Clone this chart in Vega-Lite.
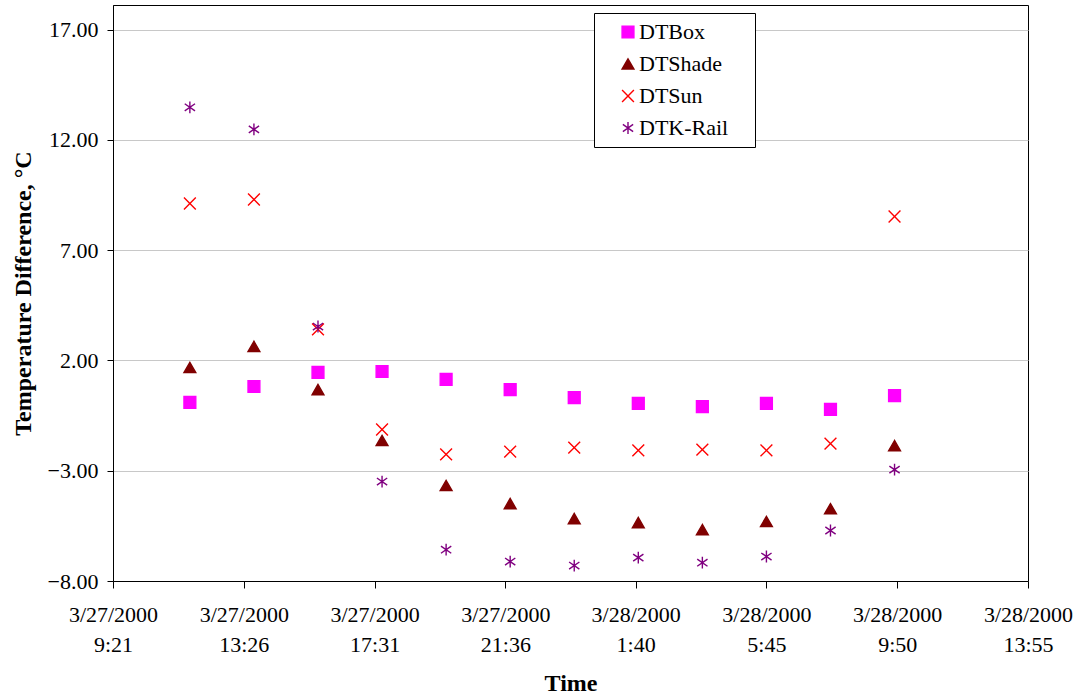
{
  "$schema": "https://vega.github.io/schema/vega-lite/v6.json",
  "autosize": "none",
  "padding": {"left": 113, "top": 5, "right": 51, "bottom": 116},
  "width": 915,
  "height": 576,
  "background": "white",
  "config": {
    "font": "Liberation Serif",
    "view": {"stroke": "black", "strokeWidth": 1},
    "legend": {
      "orient": "none",
      "legendX": 481,
      "legendY": 8,
      "fillColor": "white",
      "strokeColor": "black",
      "padding": 8,
      "rowPadding": 10,
      "labelFont": "Liberation Serif",
      "labelFontSize": 22,
      "labelColor": "black",
      "labelLimit": 200,
      "symbolSize": 140,
      "symbolStrokeWidth": 1.4,
      "symbolOffset": 15,
      "labelOffset": 0,
      "titleOrient": "right",
      "titleColor": "white",
      "titleFontSize": 22,
      "titlePadding": 13
    }
  },
  "data": {
    "values": [
      {"time": "2000-03-27T11:45:00", "series": "DTBox", "value": 0.1},
      {"time": "2000-03-27T13:45:00", "series": "DTBox", "value": 0.82},
      {"time": "2000-03-27T15:45:00", "series": "DTBox", "value": 1.46},
      {"time": "2000-03-27T17:45:00", "series": "DTBox", "value": 1.5},
      {"time": "2000-03-27T19:45:00", "series": "DTBox", "value": 1.14},
      {"time": "2000-03-27T21:45:00", "series": "DTBox", "value": 0.68},
      {"time": "2000-03-27T23:45:00", "series": "DTBox", "value": 0.32},
      {"time": "2000-03-28T01:45:00", "series": "DTBox", "value": 0.05},
      {"time": "2000-03-28T03:45:00", "series": "DTBox", "value": -0.09},
      {"time": "2000-03-28T05:45:00", "series": "DTBox", "value": 0.05},
      {"time": "2000-03-28T07:45:00", "series": "DTBox", "value": -0.22},
      {"time": "2000-03-28T09:45:00", "series": "DTBox", "value": 0.41},
      {"time": "2000-03-27T11:45:00", "series": "DTShade", "value": 1.68},
      {"time": "2000-03-27T13:45:00", "series": "DTShade", "value": 2.64},
      {"time": "2000-03-27T15:45:00", "series": "DTShade", "value": 0.68},
      {"time": "2000-03-27T17:45:00", "series": "DTShade", "value": -1.63},
      {"time": "2000-03-27T19:45:00", "series": "DTShade", "value": -3.67},
      {"time": "2000-03-27T21:45:00", "series": "DTShade", "value": -4.49},
      {"time": "2000-03-27T23:45:00", "series": "DTShade", "value": -5.17},
      {"time": "2000-03-28T01:45:00", "series": "DTShade", "value": -5.35},
      {"time": "2000-03-28T03:45:00", "series": "DTShade", "value": -5.67},
      {"time": "2000-03-28T05:45:00", "series": "DTShade", "value": -5.3},
      {"time": "2000-03-28T07:45:00", "series": "DTShade", "value": -4.72},
      {"time": "2000-03-28T09:45:00", "series": "DTShade", "value": -1.86},
      {"time": "2000-03-27T11:45:00", "series": "DTSun", "value": 9.12},
      {"time": "2000-03-27T13:45:00", "series": "DTSun", "value": 9.3},
      {"time": "2000-03-27T15:45:00", "series": "DTSun", "value": 3.41},
      {"time": "2000-03-27T17:45:00", "series": "DTSun", "value": -1.13},
      {"time": "2000-03-27T19:45:00", "series": "DTSun", "value": -2.26},
      {"time": "2000-03-27T21:45:00", "series": "DTSun", "value": -2.13},
      {"time": "2000-03-27T23:45:00", "series": "DTSun", "value": -1.95},
      {"time": "2000-03-28T01:45:00", "series": "DTSun", "value": -2.08},
      {"time": "2000-03-28T03:45:00", "series": "DTSun", "value": -2.04},
      {"time": "2000-03-28T05:45:00", "series": "DTSun", "value": -2.08},
      {"time": "2000-03-28T07:45:00", "series": "DTSun", "value": -1.77},
      {"time": "2000-03-28T09:45:00", "series": "DTSun", "value": 8.53},
      {"time": "2000-03-27T11:45:00", "series": "DTK-Rail", "value": 13.48},
      {"time": "2000-03-27T13:45:00", "series": "DTK-Rail", "value": 12.48},
      {"time": "2000-03-27T15:45:00", "series": "DTK-Rail", "value": 3.54},
      {"time": "2000-03-27T17:45:00", "series": "DTK-Rail", "value": -3.49},
      {"time": "2000-03-27T19:45:00", "series": "DTK-Rail", "value": -6.58},
      {"time": "2000-03-27T21:45:00", "series": "DTK-Rail", "value": -7.12},
      {"time": "2000-03-27T23:45:00", "series": "DTK-Rail", "value": -7.3},
      {"time": "2000-03-28T01:45:00", "series": "DTK-Rail", "value": -6.94},
      {"time": "2000-03-28T03:45:00", "series": "DTK-Rail", "value": -7.17},
      {"time": "2000-03-28T05:45:00", "series": "DTK-Rail", "value": -6.89},
      {"time": "2000-03-28T07:45:00", "series": "DTK-Rail", "value": -5.71},
      {"time": "2000-03-28T09:45:00", "series": "DTK-Rail", "value": -2.95}
    ]
  },
  "mark": {"type": "point", "filled": true, "size": 140, "strokeWidth": 1.4, "opacity": 1},
  "encoding": {
    "x": {
      "field": "time",
      "type": "temporal",
      "scale": {
        "domain": [
          {"year": 2000, "month": 3, "date": 27, "hours": 9, "minutes": 21},
          {"year": 2000, "month": 3, "date": 28, "hours": 13, "minutes": 55}
        ]
      },
      "axis": {
        "title": "Time",
        "titleFont": "Liberation Serif",
        "titleFontSize": 24,
        "titleFontWeight": "bold",
        "titleColor": "black",
        "titlePadding": 16,
        "values": [
          {"year": 2000, "month": 3, "date": 27, "hours": 9, "minutes": 21},
          {"year": 2000, "month": 3, "date": 27, "hours": 13, "minutes": 26},
          {"year": 2000, "month": 3, "date": 27, "hours": 17, "minutes": 31},
          {"year": 2000, "month": 3, "date": 27, "hours": 21, "minutes": 36},
          {"year": 2000, "month": 3, "date": 28, "hours": 1, "minutes": 40},
          {"year": 2000, "month": 3, "date": 28, "hours": 5, "minutes": 45},
          {"year": 2000, "month": 3, "date": 28, "hours": 9, "minutes": 50},
          {"year": 2000, "month": 3, "date": 28, "hours": 13, "minutes": 55}
        ],
        "labelExpr": "[timeFormat(datum.value, '%-m/%d/%Y'), timeFormat(datum.value, '%-H:%M')]",
        "labelFont": "Liberation Serif",
        "labelFontSize": 22,
        "labelColor": "black",
        "labelLineHeight": 30,
        "labelPadding": 16,
        "labelOverlap": false,
        "labelFlush": false,
        "grid": false,
        "tickSize": 7,
        "tickColor": "black",
        "domainColor": "black"
      }
    },
    "y": {
      "field": "value",
      "type": "quantitative",
      "scale": {"domain": [-8, 18.12], "nice": false, "zero": false},
      "axis": {
        "title": "Temperature Difference, °C",
        "titleFont": "Liberation Serif",
        "titleFontSize": 24,
        "titleFontWeight": "bold",
        "titleColor": "black",
        "titlePadding": 12,
        "values": [-8, -3, 2, 7, 12, 17],
        "format": ".2f",
        "labelFont": "Liberation Serif",
        "labelFontSize": 22,
        "labelColor": "black",
        "labelPadding": 9,
        "tickSize": 6,
        "tickColor": "black",
        "domainColor": "black",
        "grid": true,
        "gridColor": "#c8c8c8",
        "gridWidth": 1
      }
    },
    "fill": {
      "field": "series",
      "type": "nominal",
      "title": ".",
      "scale": {
        "domain": ["DTBox", "DTShade", "DTSun", "DTK-Rail"],
        "range": ["#FF00FF", "#800000", "#FF0000", "#800080"]
      }
    },
    "stroke": {
      "field": "series",
      "type": "nominal",
      "title": ".",
      "scale": {
        "domain": ["DTBox", "DTShade", "DTSun", "DTK-Rail"],
        "range": ["#FF00FF", "#800000", "#FF0000", "#800080"]
      }
    },
    "shape": {
      "field": "series",
      "type": "nominal",
      "title": ".",
      "scale": {
        "domain": ["DTBox", "DTShade", "DTSun", "DTK-Rail"],
        "range": ["square", "triangle-up", "M-1,-1L1,1M-1,1L1,-1", "M0,-1L0,1M-0.87,-0.6L0.87,0.6M-0.87,0.6L0.87,-0.6"]
      }
    }
  }
}
